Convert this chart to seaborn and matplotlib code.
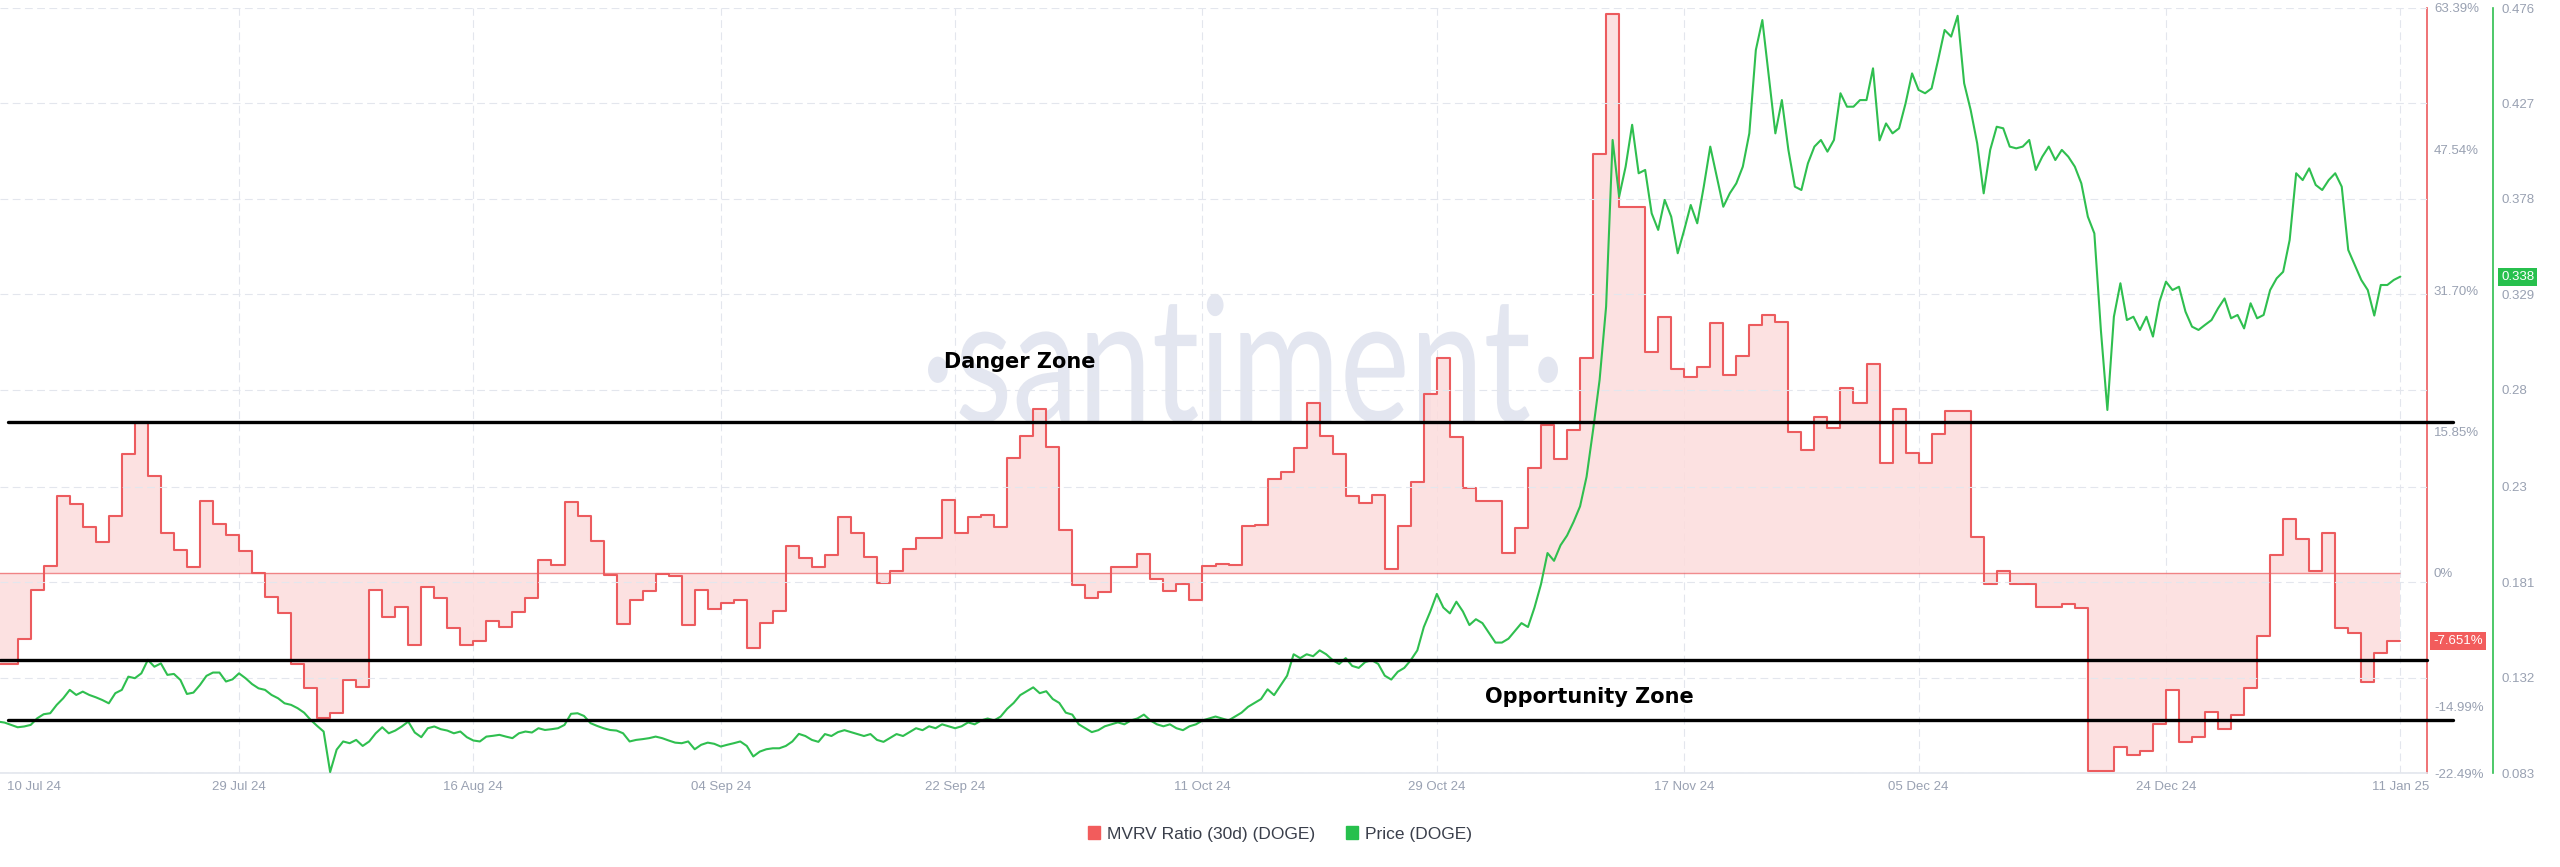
import pandas as pd
import matplotlib
matplotlib.use("Agg")
import matplotlib.pyplot as plt
import matplotlib.dates as mdates
import seaborn as sns
from matplotlib.patches import Patch, PathPatch
from matplotlib.textpath import TextPath
from matplotlib.font_manager import FontProperties
from matplotlib.transforms import Affine2D, blended_transform_factory

# MVRV ratio (30d) DOGE, daily, in %  (10 Jul 2024 -> 11 Jan 2025)
mvrv_jul = [-10.3, -10.3, -7.4, -1.9, 0.75, 8.6, 7.7, 5.1, 3.4, 6.4, 13.3, 16.9, 10.8, 4.4, 2.5,
            0.6, 8.0, 5.5, 4.2, 2.4, 0.0, -2.7]
mvrv_aug = [-4.5, -10.3, -13.0, -16.3, -15.7, -12.1, -12.8, -2.0, -5.0, -3.9, -8.1, -1.6, -2.9, -6.2,
            -8.1, -7.7, -5.4, -6.1, -4.4, -2.9, 1.4, 0.9, 7.9, 6.4, 3.6, -0.3, -5.8, -3.1, -2.1, -0.1, -0.4]
mvrv_sep = [-5.9, -1.9, -4.1, -3.4, -3.1, -8.5, -5.6, -4.3, 3.0, 1.6, 0.6, 2.0, 6.2, 4.4, 1.8,
            -1.2, 0.2, 2.7, 3.9, 3.9, 8.2, 4.5, 6.2, 6.5, 5.1, 12.9, 15.3, 18.4, 14.1, 4.8]
mvrv_oct = [-1.4, -2.9, -2.2, 0.6, 0.6, 2.1, -0.7, -2.1, -1.3, -3.1, 0.7, 1.0, 0.9, 5.2, 5.3,
            10.5, 11.3, 14.0, 19.0, 15.3, 13.3, 8.6, 7.8, 8.7, 0.4, 5.2, 10.2, 20.1, 24.1, 15.2, 9.5]
mvrv_nov = [8.0, 8.0, 2.2, 5.0, 11.7, 16.6, 12.8, 16.0, 24.1, 47.0, 62.7, 41.1, 41.1, 24.8, 28.7,
            22.9, 22.0, 23.1, 28.0, 22.2, 24.3, 27.8, 28.9, 28.1, 15.8, 13.8, 17.5, 16.2, 20.7, 19.0]
mvrv_dec = [23.4, 12.3, 18.4, 13.4, 12.3, 15.6, 18.1, 18.1, 4.0, -1.3, 0.2, -1.3, -1.3, -3.8, -3.8,
            -3.5, -4.0, -22.3, -22.3, -19.6, -20.5, -20.0, -17.0, -13.2, -19.0, -18.5, -15.6, -17.5,
            -16.0, -13.0, -7.1]
mvrv_jan = [2.0, 6.0, 3.8, 0.2, 4.4, -6.2, -6.8, -12.3, -9.0, -7.651, -7.651]

# DOGE price (USD), every 12 h from 10 Jul 2024 00:00
price_jul_sep = [0.1094, 0.1094, 0.1089, 0.1077, 0.1065, 0.1069, 0.1077, 0.1111, 0.1132, 0.1137,
                 0.118, 0.1214, 0.1257, 0.1231, 0.1248, 0.1231, 0.1219, 0.1205, 0.1188, 0.124,
                 0.1257, 0.1325, 0.1317, 0.1342, 0.1411, 0.1376, 0.1393, 0.1334, 0.1339, 0.1308,
                 0.1236, 0.1243, 0.1282, 0.1329, 0.1346, 0.1346, 0.13, 0.1311, 0.1342, 0.1317,
                 0.1287, 0.1265, 0.1257, 0.1231, 0.1214, 0.1188, 0.118, 0.1163, 0.114, 0.1103,
                 0.1072, 0.1043, 0.0835, 0.095, 0.0992, 0.0983, 0.1, 0.0969, 0.0992, 0.1034,
                 0.1065, 0.1034, 0.1048, 0.1069, 0.1094, 0.1038, 0.1014, 0.106, 0.1069, 0.1055,
                 0.1048, 0.1034, 0.1043, 0.1014, 0.0997, 0.0992, 0.1017, 0.1021, 0.1026, 0.1017,
                 0.1009, 0.1034, 0.1043, 0.1038, 0.106, 0.1051, 0.1055, 0.106, 0.1077, 0.1134,
                 0.1137, 0.1123, 0.1086, 0.1072, 0.106, 0.1051, 0.1048, 0.1034, 0.0992, 0.1,
                 0.1004, 0.1009, 0.1017, 0.1009, 0.0997, 0.0986, 0.0983, 0.0992, 0.0952, 0.0975,
                 0.0986, 0.098, 0.0966, 0.0975, 0.0983, 0.0992, 0.0969, 0.0915, 0.094, 0.0952,
                 0.0957, 0.0957, 0.0969, 0.0992, 0.1031]
price_sep_nov = [0.102,
                 0.100, 0.099, 0.103, 0.102, 0.104, 0.105, 0.104, 0.103, 0.102, 0.103,
                 0.100, 0.099, 0.101, 0.103, 0.102, 0.104, 0.106, 0.105, 0.107, 0.106,
                 0.108, 0.107, 0.106, 0.107, 0.109, 0.108, 0.110, 0.111, 0.110, 0.112,
                 0.116, 0.119, 0.123, 0.125, 0.127, 0.124, 0.125, 0.121, 0.119, 0.114,
                 0.113, 0.108, 0.106, 0.104, 0.105, 0.107, 0.108, 0.109, 0.108, 0.110,
                 0.111, 0.113, 0.110, 0.108, 0.107, 0.108, 0.106, 0.105, 0.107, 0.108,
                 0.110, 0.111, 0.112, 0.111, 0.110, 0.112, 0.114, 0.117, 0.119, 0.121,
                 0.126, 0.123, 0.128, 0.133, 0.144, 0.142, 0.144, 0.143, 0.146, 0.144,
                 0.141, 0.139, 0.142, 0.138, 0.137, 0.140, 0.141, 0.139, 0.133, 0.131,
                 0.135, 0.137, 0.141, 0.146, 0.158, 0.166, 0.175, 0.168, 0.165, 0.171,
                 0.166, 0.159, 0.162, 0.160, 0.155, 0.150]
price_nov_jan = [0.150, 0.152, 0.156, 0.160, 0.158, 0.168, 0.180, 0.196, 0.192, 0.200,
                 0.205, 0.212, 0.220, 0.2352, 0.2592, 0.2849, 0.3226, 0.4082, 0.3791, 0.3945,
                 0.416, 0.3911, 0.3928, 0.3705, 0.362, 0.3774, 0.3688, 0.35, 0.362, 0.3748,
                 0.3654, 0.3842, 0.4048, 0.3893, 0.3739, 0.3808, 0.3859, 0.3945, 0.4116, 0.4544,
                 0.4698, 0.4407, 0.4116, 0.4287, 0.4031, 0.3842, 0.3825, 0.3962, 0.4048, 0.4082,
                 0.4022, 0.4082, 0.4322, 0.4253, 0.4253, 0.4287, 0.4287, 0.445, 0.408, 0.4167,
                 0.4116, 0.4142, 0.427, 0.4424, 0.4339, 0.4322, 0.4347, 0.4493, 0.4647, 0.4613,
                 0.472, 0.4373, 0.4236, 0.4065, 0.3808, 0.4031, 0.415, 0.4142, 0.4048, 0.4039,
                 0.4048, 0.4082, 0.3928, 0.3996, 0.4048, 0.3979, 0.4031, 0.3996, 0.3945, 0.3859,
                 0.3688, 0.3602, 0.3106, 0.2695, 0.3174, 0.3346, 0.3157, 0.3174, 0.3106, 0.3174,
                 0.3072, 0.3251, 0.3354, 0.3311, 0.3328, 0.32, 0.3123, 0.3106, 0.3132, 0.3157,
                 0.3217, 0.3268, 0.3166, 0.3183, 0.3114, 0.3243, 0.3166, 0.3183, 0.3311, 0.3371,
                 0.3405, 0.3568, 0.3911, 0.3876, 0.3936, 0.3851, 0.3825, 0.3876, 0.3911, 0.3842,
                 0.3517, 0.344, 0.3363, 0.3311, 0.318, 0.3337, 0.3337, 0.3363, 0.338]

mvrv_ticks = [63.39, 47.54, 31.70, 15.85, 0, -14.99, -22.49]
mvrv_tick_labels = ['63.39%', '47.54%', '31.70%', '15.85%', '0%', '-14.99%', '-22.49%']
price_ticks = [0.083, 0.132, 0.181, 0.23, 0.28, 0.329, 0.378, 0.427, 0.476]
price_tick_labels = ['0.083', '0.132', '0.181', '0.23', '0.28', '0.329', '0.378', '0.427', '0.476']
date_ticks = ['2024-07-29', '2024-08-16', '2024-09-04', '2024-09-22', '2024-10-11',
              '2024-10-29', '2024-11-17', '2024-12-05', '2024-12-24', '2025-01-11']

# zone levels drawn by hand on the original (MVRV %)
danger_level = 16.9
opp_upper = -9.8
opp_lower = -16.5

mvrv = mvrv_jul + mvrv_aug + mvrv_sep + mvrv_oct + mvrv_nov + mvrv_dec + mvrv_jan
price = price_jul_sep + price_sep_nov + price_nov_jan
df_mvrv = pd.DataFrame({'date': pd.date_range('2024-07-10', periods=len(mvrv), freq='D'), 'mvrv': mvrv})
df_price = pd.DataFrame({'date': pd.date_range('2024-07-10', periods=len(price), freq='12h'), 'price': price})

RED = '#ec5b5e'
RED_FILL = '#fcdcdc'
GREEN = '#2fbf4f'
GRAY = '#99a1b2'
GRID = '#e3e6ed'

sns.set_theme(style='white')
plt.rcParams['font.family'] = ['Liberation Sans', 'DejaVu Sans']

fig = plt.figure(figsize=(25.6, 8.67), dpi=100)
fig.patch.set_facecolor('white')
ax1 = fig.add_axes([0, 94 / 867, 2427 / 2560, 765 / 867])
ax1.patch.set_visible(False)

# watermark (stretched, drawn behind the axes)
fp = FontProperties(family='Lato')
tp = TextPath((0, 0), '\u00b7santiment\u00b7', size=100, prop=fp)
ext = tp.get_extents()
xh = TextPath((0, 0), 'x', size=100, prop=fp).get_extents().height
sx = 630 / ext.width
sy = 89 / xh
tr = Affine2D().translate(-ext.x0, 0).scale(sx, sy).translate(928, 867 - 422)
wm = PathPatch(tp, transform=tr, facecolor='#e3e6f0', edgecolor='none', zorder=-1)
fig.add_artist(wm)

# MVRV
ax1.fill_between(df_mvrv['date'], df_mvrv['mvrv'], 0, step='post', color=RED_FILL, alpha=0.85,
                 linewidth=0, zorder=1)
ax1.hlines(0, df_mvrv['date'].iloc[0], df_mvrv['date'].iloc[-1], color=RED, linewidth=1, alpha=0.7, zorder=1.5)
sns.lineplot(data=df_mvrv, x='date', y='mvrv', ax=ax1, color=RED, linewidth=1.5,
             drawstyle='steps-post', zorder=2)

ax2 = ax1.twinx()
sns.lineplot(data=df_price, x='date', y='price', ax=ax2, color=GREEN, linewidth=1.5, zorder=2)

x0 = pd.Timestamp('2024-07-10 15:27')
x1 = pd.Timestamp('2025-01-13 01:10')
ax1.set_xlim(x0, x1)
ax1.set_ylim(-22.49, 63.39)
ax2.set_ylim(0.083, 0.476)

ax1.set_xlabel('')
ax1.set_ylabel('')
ax2.set_ylabel('')

# axes styling
for s in ['left', 'top']:
    ax1.spines[s].set_visible(False)
    ax2.spines[s].set_visible(False)
ax2.spines['bottom'].set_visible(False)
ax1.spines['bottom'].set_color(GRID)
ax1.spines['bottom'].set_linewidth(1.2)
ax1.spines['right'].set_color(RED)
ax1.spines['right'].set_linewidth(1.2)
ax2.spines['right'].set_color(GREEN)
ax2.spines['right'].set_linewidth(1.2)
ax2.spines['right'].set_position(('outward', 47.5))

ax1.yaxis.tick_right()
ax1.set_yticks(mvrv_ticks)
ax1.set_yticklabels(mvrv_tick_labels)
ax1.tick_params(axis='y', length=0, pad=5, labelsize=9.5, labelcolor=GRAY)
ax2.set_yticks(price_ticks)
ax2.set_yticklabels(price_tick_labels)
ax2.tick_params(axis='y', length=0, pad=6, labelsize=9.5, labelcolor=GRAY)

ax1.set_xticks(pd.to_datetime(date_ticks))
ax1.xaxis.set_major_formatter(mdates.DateFormatter('%d %b %y'))
ax1.tick_params(axis='x', length=0, pad=6, labelsize=9.5, labelcolor=GRAY)
ax1.annotate('10 Jul 24', xy=(0.014, 0), xycoords='axes fraction', xytext=(0, -6),
             textcoords='offset points', ha='center', va='top', fontsize=9.5, color=GRAY)

ax1.grid(axis='x', color=GRID, linestyle=(0, (7, 4)), linewidth=0.8)
ax1.grid(axis='y', visible=False)
ax2.grid(axis='y', color=GRID, linestyle=(0, (7, 4)), linewidth=0.8)
ax1.set_axisbelow(True)

# zone lines and labels
tr1 = blended_transform_factory(ax1.transAxes, ax1.transData)
ax2.plot([0.0033, 1.0107], [danger_level] * 2, transform=tr1, color='black', lw=2.4, clip_on=False, zorder=5)
ax2.plot([0.0, 1.0], [opp_upper] * 2, transform=tr1, color='black', lw=2.4, clip_on=False, zorder=5)
ax2.plot([0.0033, 1.0107], [opp_lower] * 2, transform=tr1, color='black', lw=2.4, clip_on=False, zorder=5)
ax2.text(0.420, 0.537, 'Danger Zone', transform=ax1.transAxes, ha='center', va='center',
         fontsize=15, fontweight='bold', family=['DejaVu Sans'], color='black')
ax2.text(0.655, 0.0993, 'Opportunity Zone', transform=ax1.transAxes, ha='center', va='center',
         fontsize=15, fontweight='bold', family=['DejaVu Sans'], color='black')

# last value badges
ax2.text(1.0025, mvrv[-1], f'{mvrv[-1]:.3f}%', transform=tr1, ha='left', va='center', fontsize=9.5,
         color='white', clip_on=False, zorder=6,
         bbox=dict(boxstyle='square,pad=0.22', fc='#f25c5c', ec='none'))
tr2 = blended_transform_factory(ax2.transAxes, ax2.transData)
ax2.text(1.0305, price[-1], f'{price[-1]:.3f}', transform=tr2, ha='left', va='center', fontsize=9.5,
         color='white', clip_on=False, zorder=6,
         bbox=dict(boxstyle='square,pad=0.22', fc='#27c04d', ec='none'))

# legend
handles = [Patch(color='#f25c5c'), Patch(color='#27c04d')]
fig.legend(handles, ['MVRV Ratio (30d) (DOGE)', 'Price (DOGE)'], loc='center', bbox_to_anchor=(0.5, 0.038),
           ncol=2, frameon=False, fontsize=12.5, handlelength=0.7, handleheight=0.7, handletextpad=0.4,
           columnspacing=1.8, labelcolor='#3a3f4b')
if ax1.get_legend():
    ax1.get_legend().remove()
if ax2.get_legend():
    ax2.get_legend().remove()

fig.savefig('out.png', dpi=100)
